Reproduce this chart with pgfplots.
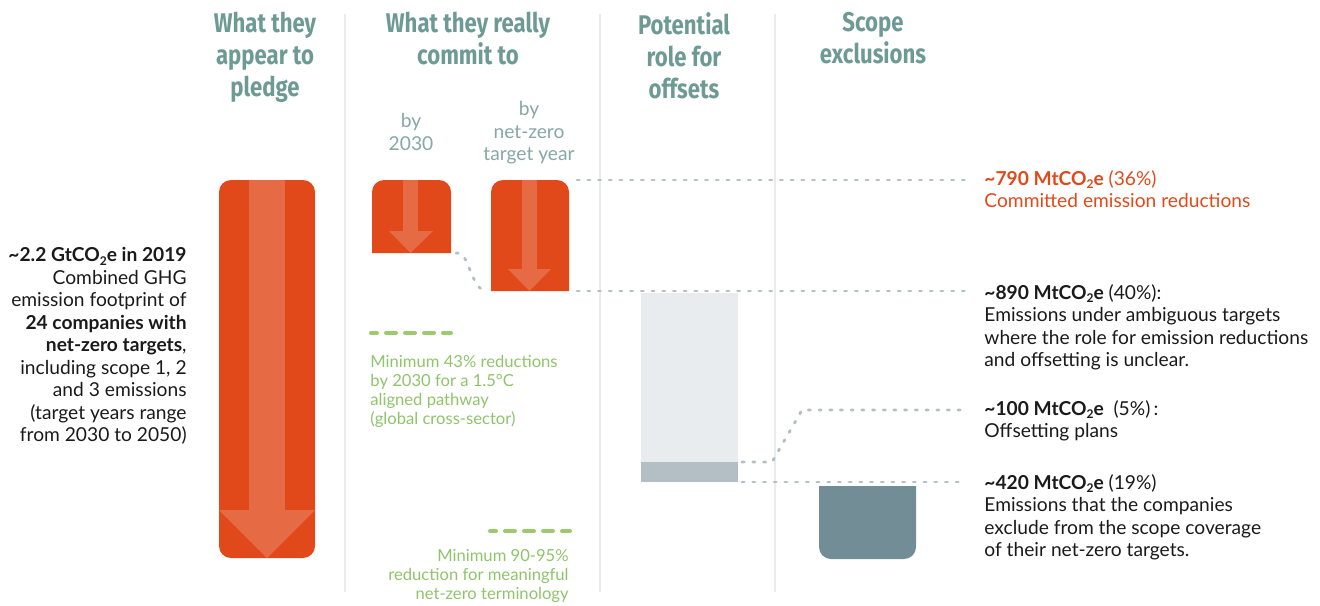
\documentclass[border=0pt]{standalone}
\usepackage{fontspec}
\setmainfont{Lato}
\newfontfamily\headfont[FakeStretch=0.82]{Fira Sans}
\usepackage{pgfplots}
\pgfplotsset{compat=1.18}
\definecolor{orng}{HTML}{E2491A}
\definecolor{strp}{HTML}{E66B45}
\definecolor{headteal}{HTML}{6E9A95}
\definecolor{subteal}{HTML}{86A8A4}
\definecolor{grn}{HTML}{9CCB6E}
\definecolor{grntxt}{HTML}{8FC46A}
\definecolor{dotg}{HTML}{B3BFC4}
\definecolor{offl}{HTML}{E9ECEE}
\definecolor{offd}{HTML}{B3BFC4}
\definecolor{scope}{HTML}{738D96}
\definecolor{sepc}{HTML}{E8ECEE}
\definecolor{txt}{HTML}{1A1A1A}
\tikzset{
  headtxt/.style={anchor=north, align=center, inner sep=0pt, text=headteal,
     font={\headfont\bfseries\fontsize{13.5}{16}\selectfont}},
  body/.style={inner sep=0pt, font={\fontsize{9.6}{11.25}\selectfont}},
  gtxt/.style={inner sep=0pt, text=grntxt, font={\fontsize{8.3}{9.5}\selectfont}},
  dotl/.style={draw=dotg, line width=1.4pt, line cap=round, dash pattern=on 1.1pt off 4.25pt},
  gdash/.style={draw=grn, line width=2pt, line cap=round, dash pattern=on 5pt off 4.5pt, dash phase=2pt},
}
\newcommand{\sub}[1]{\raisebox{-0.35ex}{\fontsize{6}{6}\selectfont #1}}
\begin{document}
\begin{tikzpicture}
\begin{axis}[name=ax, scale only axis, width=660pt, height=302.5pt,
  xmin=0, xmax=1320, ymin=0, ymax=605, y dir=reverse, hide axis, clip=false]
% separators
\addplot[draw=sepc, line width=0.7pt] coordinates {(345,14) (345,592)};
\addplot[draw=sepc, line width=0.7pt] coordinates {(600,14) (600,592)};
\addplot[draw=sepc, line width=0.7pt] coordinates {(775,14) (775,592)};
% pledge bar
\addplot[fill=orng, draw=none, rounded corners=6pt] coordinates {(267,180) (315,180) (315,558) (219,558) (219,180) (267,180)};
\addplot[fill=strp, draw=none] coordinates {(249,180) (285,180) (285,510) (249,510)};
\addplot[fill=strp, draw=none] coordinates {(219,510) (315,510) (267,558)};
% 2030 bar
\addplot[fill=orng, draw=none, rounded corners=6pt] coordinates {(372,253) (372,180) (451,180) (451,253)};
\addplot[fill=strp, draw=none] coordinates {(403,180) (418,180) (418,231) (403,231)};
\addplot[fill=strp, draw=none] coordinates {(389,231) (433,231) (410.5,253)};
% net-zero bar
\addplot[fill=orng, draw=none, rounded corners=6pt] coordinates {(491,291) (491,180) (569,180) (569,291)};
\addplot[fill=strp, draw=none] coordinates {(522,180) (537,180) (537,269) (522,269)};
\addplot[fill=strp, draw=none] coordinates {(508,269) (551,269) (529.5,291)};
% offsets
\addplot[fill=offl, draw=none] coordinates {(641,293) (738,293) (738,462) (641,462)};
\addplot[fill=offd, draw=none] coordinates {(641,462) (738,462) (738,482) (641,482)};
% scope exclusions
\addplot[fill=scope, draw=none, rounded corners=6pt] coordinates {(819,486) (819,559) (916,559) (916,486)};
% dotted connectors
\addplot[dotl] coordinates {(577,180) (966,180)};
\addplot[dotl] coordinates {(577,291) (966,291)};
\addplot[dotl, smooth] coordinates {(456,253) (464,257) (477,285) (487,291)};
\addplot[dotl] coordinates {(742,462) (772,462) (802,410) (966,410)};
\addplot[dotl] coordinates {(742,482) (966,482)};
% green dashes
\addplot[gdash] coordinates {(371,333) (451,333)};
\addplot[gdash] coordinates {(490,531) (570,531)};
% headers
\node[headtxt] at (265,12) {What they\\appear to\\pledge};
\node[headtxt] at (468,12) {What they really\\commit to};
\node[headtxt] at (684,12) {Potential\\role for\\offsets};
\node[headtxt] at (873,12) {Scope\\exclusions};
% sub headers
\node[body, text=subteal, anchor=north, align=center] at (411,113) {by\\2030};
\node[body, text=subteal, anchor=north, align=center] at (529,101) {by\\net-zero\\target year};
% left text
\node[body, text=txt, anchor=north east, align=right] at (187,247) {\textbf{\textasciitilde2.2 GtCO\sub{2}e in 2019}\\Combined GHG\\emission footprint of\\\textbf{24 companies with}\\\textbf{net-zero targets},\\including scope 1, 2\\and 3 emissions\\(target years range\\from 2030 to 2050)};
% green texts
\node[gtxt, anchor=north west, align=left] at (370,355) {Minimum 43\% reductions\\by 2030 for a 1.5°C\\aligned pathway\\(global cross-sector)};
\node[gtxt, anchor=north east, align=right] at (569,549) {Minimum 90-95\%\\reduction for meaningful\\net-zero terminology};
% right texts
\node[body, text=orng, anchor=north west, align=left] at (984,170) {\textbf{\textasciitilde790 MtCO\sub{2}e} (36\%)\\Committed emission reductions};
\node[body, text=txt, anchor=north west, align=left] at (984,284) {\textbf{\textasciitilde890 MtCO\sub{2}e} (40\%):\\Emissions under ambiguous targets\\where the role for emission reductions\\and offsetting is unclear.};
\node[body, text=txt, anchor=north west, align=left] at (984,400) {\textbf{\textasciitilde100 MtCO\sub{2}e}\ \ (5\%)\,:\\Offsetting plans};
\node[body, text=txt, anchor=north west, align=left] at (984,474) {\textbf{\textasciitilde420 MtCO\sub{2}e} (19\%)\\Emissions that the companies\\exclude from the scope coverage\\of their net-zero targets.};
\end{axis}
\pgfresetboundingbox
\path[use as bounding box] (ax.south west) rectangle (ax.north east);
\end{tikzpicture}
\end{document}
